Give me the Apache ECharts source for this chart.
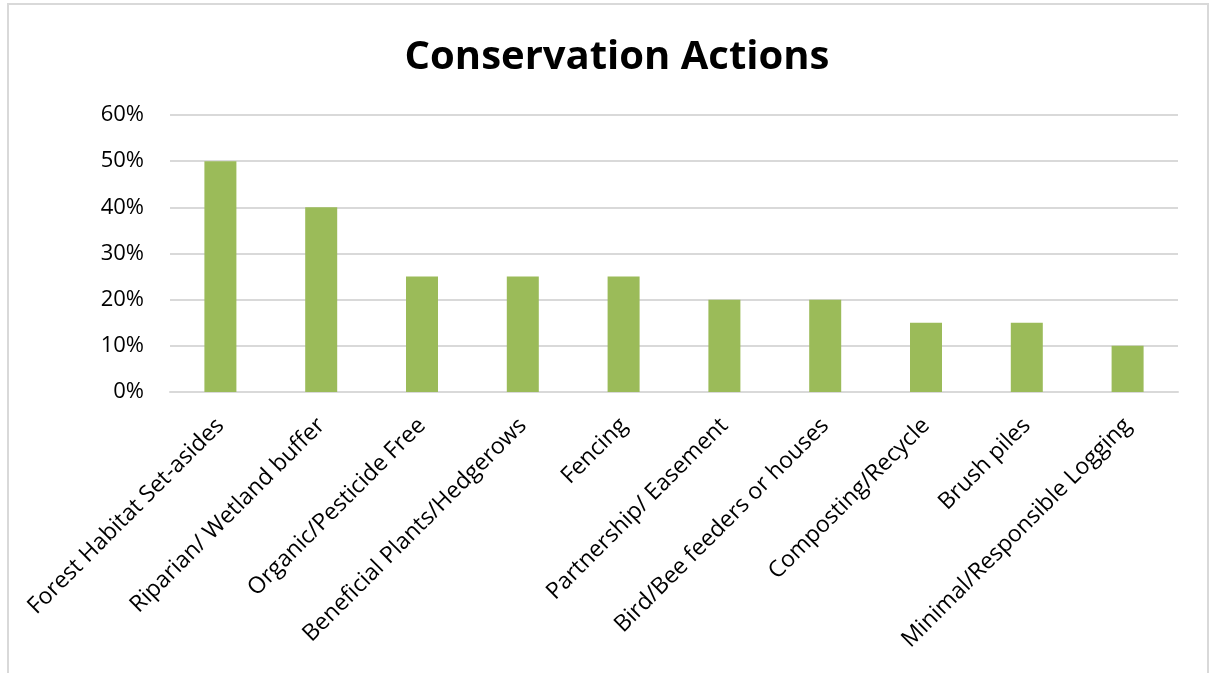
<!DOCTYPE html>
<html>
<head>
<meta charset="utf-8">
<script src="https://cdn.jsdelivr.net/npm/echarts@6/dist/echarts.min.js"></script>
<style>
  html, body { margin: 0; padding: 0; background: #ffffff; overflow: hidden; }
  #frame { position: absolute; left: 7px; top: 3px; width: 1202px; height: 700px; border: 2px solid #d9d9d9; box-sizing: border-box; }
  #chart { position: absolute; left: 0; top: 0; width: 1209px; height: 673px; }
</style>
</head>
<body>
<div id="frame"></div>
<div id="chart"></div>
<script>
const categories = [
  "Forest Habitat Set-asides",
  "Riparian/ Wetland buffer",
  "Organic/Pesticide Free",
  "Beneficial Plants/Hedgerows",
  "Fencing",
  "Partnership/ Easement",
  "Bird/Bee feeders or houses",
  "Composting/Recycle",
  "Brush piles",
  "Minimal/Responsible Logging"
];
const values = [0.50, 0.40, 0.25, 0.25, 0.25, 0.20, 0.20, 0.15, 0.15, 0.10];
const yTicks = [0, 0.1, 0.2, 0.3, 0.4, 0.5, 0.6];

const chart = echarts.init(document.getElementById('chart'), null, { renderer: 'canvas' });
const font = "'Open Sans', sans-serif";
chart.setOption({
  backgroundColor: 'transparent',
  animation: false,
  title: {
    text: 'Conservation Actions',
    left: 612,
    textAlign: 'center',
    top: 33,
    textStyle: { fontFamily: font, fontWeight: 'bold', fontSize: 40, color: '#000000' }
  },
  grid: { left: 170, right: 31, top: 115, bottom: 281, containLabel: false },
  xAxis: {
    type: 'category',
    data: categories,
    axisLine: { show: true, lineStyle: { color: '#d9d9d9', width: 2 } },
    axisTick: { show: false },
    axisLabel: {
      interval: 0, rotate: 45, margin: 30,
      fontFamily: font, fontSize: 23, color: '#000000'
    }
  },
  yAxis: {
    type: 'value',
    min: yTicks[0],
    max: yTicks[yTicks.length - 1],
    interval: 0.1,
    axisLine: { show: false },
    axisTick: { show: false },
    splitLine: { lineStyle: { color: '#d9d9d9', width: 2 } },
    axisLabel: {
      margin: 26,
      fontFamily: font, fontSize: 22, color: '#000000',
      formatter: v => Math.round(v * 100) + '%'
    }
  },
  series: [{
    type: 'bar',
    data: values,
    barWidth: 32,
    itemStyle: { color: '#9bbb59' }
  }]
});
</script>
</body>
</html>
